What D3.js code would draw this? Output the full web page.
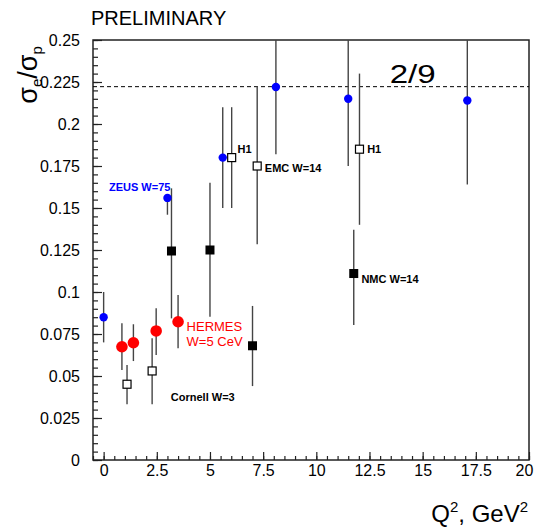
<!DOCTYPE html>
<html>
<head>
<meta charset="utf-8">
<script src="https://cdn.jsdelivr.net/npm/d3@7"></script>
<style>
  body { margin: 0; background: #fff; }
  svg { display: block; font-family: "Liberation Sans", Arial, Helvetica, sans-serif; }
</style>
</head>
<body>
<svg id="chart" width="538" height="528"></svg>
<script>
// ---------------- data ----------------
// blue filled circles
const blueX  = [0, 3.0, 5.6, 8.1, 11.5, 17.1];
const blueY  = [0.085, 0.156, 0.180, 0.222, 0.215, 0.214];
const blueLo = [0.070, 0.146, 0.150, 0.182, 0.175, 0.164];
const blueHi = [0.100, 0.158, 0.210, 0.262, 0.255, 0.264];
// HERMES red circles
const redX  = [0.86, 1.40, 2.47, 3.50];
const redY  = [0.0674, 0.0698, 0.0768, 0.0823];
const redLo = [0.0536, 0.0589, 0.0625, 0.0665];
const redHi = [0.0814, 0.0808, 0.0903, 0.0982];
// open squares
const openX  = [1.10, 2.28, 6.02, 7.22, 12.03];
const openY  = [0.0451, 0.053, 0.180, 0.175, 0.185];
const openLo = [0.0332, 0.0332, 0.150, 0.1284, 0.140];
const openHi = [0.0565, 0.0724, 0.210, 0.2226, 0.230];
// filled black squares
const blackX  = [3.19, 5.0, 7.0, 11.76];
const blackY  = [0.1244, 0.125, 0.068, 0.111];
const blackLo = [0.0843, 0.0853, 0.044, 0.0804];
const blackHi = [0.1617, 0.165, 0.0917, 0.137];

const refValue = 2 / 9;
const refLabel = "2/9";

const xTickValues = [0, 2.5, 5, 7.5, 10, 12.5, 15, 17.5, 20];
const xTickLabels = ["0", "2.5", "5", "7.5", "10", "12.5", "15", "17.5", "20"];
const yTickValues = [0, 0.025, 0.05, 0.075, 0.1, 0.125, 0.15, 0.175, 0.2, 0.225, 0.25];
const yTickLabels = ["0", "0.025", "0.05", "0.075", "0.1", "0.125", "0.15", "0.175", "0.2", "0.225", "0.25"];

const annotations = [
  { text: "ZEUS W=75",  x: 0.25,  y: 0.1603, color: "#0000ff", size: 11, weight: "bold" },
  { text: "H1",         x: 6.30,  y: 0.1826, color: "#000",    size: 11, weight: "bold" },
  { text: "EMC W=14",   x: 7.58,  y: 0.1716, color: "#000",    size: 11, weight: "bold" },
  { text: "H1",         x: 12.39, y: 0.1826, color: "#000",    size: 11, weight: "bold" },
  { text: "NMC W=14",   x: 12.12, y: 0.1052, color: "#000",    size: 11, weight: "bold" },
  { text: "HERMES",     x: 3.90,  y: 0.0768, color: "#ff0000", size: 13, weight: "normal" },
  { text: "W=5 CeV",    x: 3.90,  y: 0.0677, color: "#ff0000", size: 13, weight: "normal" },
  { text: "Cornell W=3",x: 3.16,  y: 0.0353, color: "#000",    size: 11, weight: "bold" }
];

// ---------------- layout ----------------
const svg = d3.select("#chart");
const padL = 93, padR = 529, padT = 40, padB = 460;

const x = d3.scaleLinear().domain([-0.5, 20]).range([padL, padR]);
const y = d3.scaleLinear().domain([0, 0.25]).range([padB, padT]);

svg.append("defs").append("clipPath").attr("id", "clip")
  .append("rect").attr("x", padL).attr("y", padT).attr("width", padR - padL).attr("height", padB - padT);

// title
svg.append("text").attr("x", 91).attr("y", 25).attr("font-size", 20).attr("fill", "#000")
  .text("PRELIMINARY");

// axes
const axisColor = "#222";
const xMinor = d3.range(-0.5, 20.001, 0.5);
const yMinor = d3.range(0, 0.2501, 0.005);

const gxMinor = svg.append("g").attr("transform", `translate(0,${padB})`)
  .call(d3.axisBottom(x).tickValues(xMinor).tickSize(-4).tickFormat(""));
const gx = svg.append("g").attr("transform", `translate(0,${padB})`)
  .call(d3.axisBottom(x).tickValues(xTickValues).tickSize(-8).tickPadding(5)
    .tickFormat((d, i) => xTickLabels[i]));
const gyMinor = svg.append("g").attr("transform", `translate(${padL},0)`)
  .call(d3.axisLeft(y).tickValues(yMinor).tickSize(-5).tickFormat(""));
const gy = svg.append("g").attr("transform", `translate(${padL},0)`)
  .call(d3.axisLeft(y).tickValues(yTickValues).tickSize(-9).tickPadding(13)
    .tickFormat((d, i) => yTickLabels[i]));

[gx, gy, gxMinor, gyMinor].forEach(g => {
  g.select(".domain").remove();
  g.selectAll(".tick line").attr("stroke", axisColor).attr("stroke-width", 1.2);
  g.selectAll(".tick text").attr("font-size", 16).attr("fill", "#000")
    .attr("font-family", "Liberation Sans, Arial, sans-serif");
});
// last x label kept inside the window like the reference
gx.selectAll(".tick text").filter((d, i) => i === xTickValues.length - 1).attr("dx", -5);

// frame
svg.append("rect").attr("x", padL).attr("y", padT).attr("width", padR - padL).attr("height", padB - padT)
  .attr("fill", "none").attr("stroke", axisColor).attr("stroke-width", 1.5);

// reference line 2/9
svg.append("line").attr("x1", padL).attr("x2", padR).attr("y1", y(refValue)).attr("y2", y(refValue))
  .attr("stroke", "#000").attr("stroke-width", 1).attr("stroke-dasharray", "4,3");
svg.append("text").attr("x", x(14.53)).attr("y", y(0.2242)).attr("text-anchor", "middle")
  .attr("font-size", 26).attr("textLength", 46).attr("lengthAdjust", "spacingAndGlyphs").text(refLabel);

// data layer
const plot = svg.append("g").attr("clip-path", "url(#clip)");

function series(xs, ys, lo, hi) {
  return xs.map((d, i) => ({ x: d, y: ys[i], lo: lo[i], hi: hi[i] }));
}
const blue = series(blueX, blueY, blueLo, blueHi);
const red = series(redX, redY, redLo, redHi);
const open = series(openX, openY, openLo, openHi);
const black = series(blackX, blackY, blackLo, blackHi);

function errBars(data) {
  plot.append("g").selectAll("line").data(data).join("line")
    .attr("x1", d => x(d.x)).attr("x2", d => x(d.x))
    .attr("y1", d => y(d.hi)).attr("y2", d => y(d.lo))
    .attr("stroke", "#444").attr("stroke-width", 1.4);
}
[blue, red, open, black].forEach(errBars);

plot.append("g").selectAll("circle").data(blue).join("circle")
  .attr("cx", d => x(d.x)).attr("cy", d => y(d.y)).attr("r", 4.2).attr("fill", "#0000ff");
plot.append("g").selectAll("circle").data(red).join("circle")
  .attr("cx", d => x(d.x)).attr("cy", d => y(d.y)).attr("r", 5.8).attr("fill", "#ff0000");
const sq = 8;
plot.append("g").selectAll("rect").data(open).join("rect")
  .attr("x", d => x(d.x) - sq / 2).attr("y", d => y(d.y) - sq / 2)
  .attr("width", sq).attr("height", sq).attr("fill", "#fff").attr("stroke", "#000").attr("stroke-width", 1.2);
plot.append("g").selectAll("rect").data(black).join("rect")
  .attr("x", d => x(d.x) - sq / 2 - 0.5).attr("y", d => y(d.y) - sq / 2 - 0.5)
  .attr("width", sq + 1).attr("height", sq + 1).attr("fill", "#000");

// annotations
svg.append("g").selectAll("text").data(annotations).join("text")
  .attr("x", d => x(d.x)).attr("y", d => y(d.y))
  .attr("fill", d => d.color).attr("font-size", d => d.size).attr("font-weight", d => d.weight)
  .text(d => d.text);

// y axis title: sigma_e / sigma_p (rotated)
const yt = svg.append("text").attr("transform", "translate(37,75) rotate(-90)")
  .attr("text-anchor", "middle").attr("font-size", 27).attr("fill", "#000");
yt.append("tspan").text("σ");
yt.append("tspan").attr("font-size", 15).attr("dy", 5).text("e");
yt.append("tspan").attr("dy", -5).text("/σ");
yt.append("tspan").attr("font-size", 15).attr("dy", 5).text("p");

// x axis title
const xt = svg.append("text").attr("x", 528).attr("y", 522).attr("text-anchor", "end")
  .attr("font-size", 24).attr("fill", "#000");
xt.append("tspan").text("Q");
xt.append("tspan").attr("font-size", 15).attr("dy", -10).text("2");
xt.append("tspan").attr("dy", 10).text(", GeV");
xt.append("tspan").attr("font-size", 15).attr("dy", -10).text("2");
</script>
</body>
</html>
